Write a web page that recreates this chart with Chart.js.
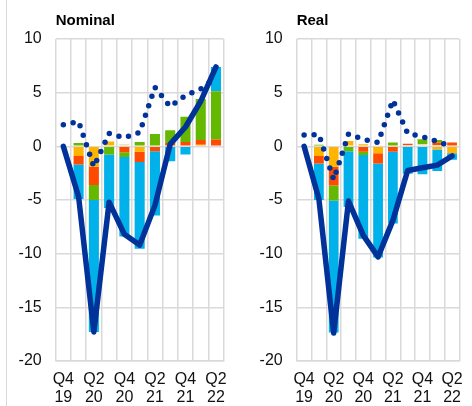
<!DOCTYPE html>
<html>
<head>
<meta charset="utf-8">
<script src="https://cdn.jsdelivr.net/npm/chart.js@4.4.1/dist/chart.umd.min.js"></script>
<style>
  html, body { margin: 0; padding: 0; background: #fff; }
  #wrap { position: relative; width: 472px; height: 406px; overflow: hidden; }
  .panel { position: absolute; top: 0; width: 236px; height: 406px; }
  #frame { position: absolute; left: 6px; top: 0; width: 1px; height: 406px; background: #d9d9d9; }
</style>
</head>
<body>
<div id="wrap">
  <div id="frame"></div>
  <div class="panel" style="left:0"><canvas id="nominal" width="236" height="406"></canvas></div>
  <div class="panel" style="left:236px"><canvas id="real" width="236" height="406"></canvas></div>
</div>
<script>
// quarters
const quarters = ['Q4 19', 'Q1 20', 'Q2 20', 'Q3 20', 'Q4 20', 'Q1 21', 'Q2 21', 'Q3 21', 'Q4 21', 'Q1 22', 'Q2 22'];
const yTicks = [-20, -15, -10, -5, 0, 5, 10];

// Nominal panel
const nomPale   = [null, 0, 0, 0, 0.2, 0, 0, 0, 0, 0, 0];
const nomYellow = [null, -0.9, -1.9, 0.45, 0, -0.5, 0, 0, 0, 0.15, 0];
const nomOrange = [null, -0.8, -1.7, 0, -0.55, -0.95, -0.45, 0.3, 0.4, 0.45, 0.63];
const nomGreen  = [null, 0.3, -1.4, -0.75, -0.45, 0.4, 1.15, 1.2, 2.35, 3.8, 4.5];
const nomBlue   = [null, -3.2, -12.3, -5.0, -7.4, -8.1, -6.0, -1.4, -0.75, 0, 2.27];
const nomTotal  = [0, -4.7, -17.3, -5.2, -8.2, -9.2, -5.5, 0.2, 1.8, 4.2, 7.4];
const nomDotted = [2.0, 2.3, -1.9, 1.2, 0.8, 1.3, 5.5, 3.7, 4.75, 5.35, 6.4];

// Real panel
const realPale   = [null, 0, 0, 0, 0, 0.1, 0, 0.1, 0.2, 0.1, 0];
const realYellow = [null, -0.9, -1.9, 0.5, 0.2, -0.65, 0, 0, 0, -0.3, -0.65];
const realOrange = [null, -0.7, -1.75, 0, -0.5, -0.95, -0.5, 0.15, 0, 0.25, 0.35];
const realGreen  = [null, 0.15, -1.4, -0.45, -0.3, 0, 0.35, 0, 0.45, 0.25, 0];
const realBlue   = [null, -3.4, -12.3, -5.2, -7.8, -8.75, -6.7, -2.55, -2.6, -2.0, -0.6];
const realTotal  = [0, -4.9, -17.4, -5.1, -8.3, -10.3, -6.9, -2.25, -2.0, -1.75, -0.9];
const realDotted = [1.05, 1.1, -3.1, 1.15, 0.65, 0.35, 4.3, 1.2, 0.9, 0.45, -0.05];

const FONT = "'Liberation Sans', Arial, sans-serif";
const NAVY = '#003299';

// draws the panel title at the left edge of the plot area
const panelTitle = {
  id: 'panelTitle',
  afterDraw(chart, args, opts) {
    const ctx = chart.ctx;
    ctx.save();
    ctx.font = 'bold 15px ' + FONT;
    ctx.fillStyle = '#000';
    ctx.textBaseline = 'alphabetic';
    ctx.fillText(opts.text, chart.chartArea.left, 25);
    ctx.restore();
  }
};

function bar(label, data, color) {
  return { type: 'bar', label, data, backgroundColor: color, stack: 'bars', order: 3,
           barPercentage: 0.66, categoryPercentage: 1 };
}

function makeChart(id, title, parts, total, dotted, yWidth, padRight) {
  new Chart(document.getElementById(id), {
    data: {
      labels: quarters,
      datasets: [
        bar('pale', parts[0], '#eadbad'),
        bar('yellow', parts[1], '#ffb400'),
        bar('orange', parts[2], '#ff4b00'),
        bar('green', parts[3], '#65b800'),
        bar('blue', parts[4], '#00b1ea'),
        { type: 'line', label: 'total', data: total, stack: 'l1', order: 2,
          borderColor: NAVY, borderWidth: 5.5, pointRadius: 0, tension: 0,
          borderJoinStyle: 'round', borderCapStyle: 'round' },
        { type: 'line', label: 'dotted', data: dotted, stack: 'l2', order: 1,
          borderColor: NAVY, borderWidth: 5.5, pointRadius: 0, tension: 0,
          borderDash: [0, 10], borderCapStyle: 'round' }
      ]
    },
    options: {
      responsive: false,
      animation: false,
      layout: { padding: { top: 39, right: padRight, bottom: 0, left: 0 } },
      plugins: { legend: { display: false }, tooltip: { enabled: false }, panelTitle: { text: title } },
      scales: {
        x: {
          stacked: true,
          offset: true,
          grid: { offset: true, color: '#d9d9d9', lineWidth: 1.5, drawTicks: false },
          border: { color: '#d9d9d9', width: 1.5 },
          afterFit: s => { s.height = 45; },
          ticks: {
            autoSkip: false, maxRotation: 0, padding: 9, color: '#111',
            font: { family: FONT, size: 16, lineHeight: 1.15 },
            callback: function (v, i) { return i % 2 ? '' : this.getLabelForValue(v).split(' '); }
          }
        },
        y: {
          stacked: true,
          min: -20, max: 10,
          afterFit: s => { s.width = yWidth; },
          afterBuildTicks: s => { s.ticks = yTicks.map(v => ({ value: v })); },
          grid: { color: '#d9d9d9', lineWidth: 1.5, drawTicks: false },
          border: { display: false },
          ticks: { padding: 14, color: '#111', font: { family: FONT, size: 16 } }
        }
      }
    },
    plugins: [panelTitle]
  });
}

makeChart('nominal', 'Nominal', [nomPale, nomYellow, nomOrange, nomGreen, nomBlue], nomTotal, nomDotted, 55.7, 7.3);
makeChart('real', 'Real', [realPale, realYellow, realOrange, realGreen, realBlue], realTotal, realDotted, 60.7, 6);
</script>
</body>
</html>
